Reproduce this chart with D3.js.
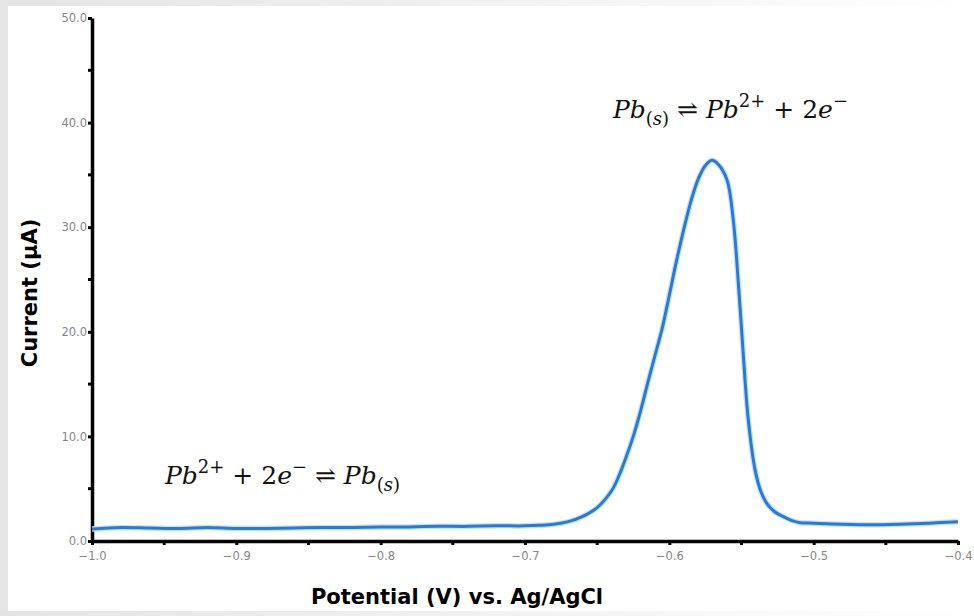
<!DOCTYPE html>
<meta charset="utf-8">
<script src="https://d3js.org/d3.v7.min.js"></script>
<style>
  body { margin: 0; background: #fff; }
</style>
<svg width="974" height="616"></svg>
<script>

// potential (V vs Ag/AgCl) and current (uA)
const potential = [-1.0, -0.98, -0.96, -0.94, -0.92, -0.9, -0.88, -0.86, -0.84, -0.82, -0.8,
  -0.78, -0.76, -0.74, -0.72, -0.70, -0.69, -0.68, -0.67, -0.66, -0.65, -0.64, -0.635, -0.63,
  -0.625, -0.62, -0.615, -0.61, -0.605, -0.60, -0.595, -0.59, -0.585, -0.58, -0.575, -0.5705,
  -0.566, -0.56, -0.5557, -0.552, -0.5488, -0.5453, -0.5406, -0.5365, -0.5325, -0.527, -0.521,
  -0.515, -0.5094, -0.50, -0.48, -0.46, -0.44, -0.42, -0.40];
const current = [1.15, 1.3, 1.25, 1.2, 1.3, 1.2, 1.2, 1.25, 1.3, 1.3, 1.35,
  1.35, 1.4, 1.4, 1.45, 1.45, 1.5, 1.6, 1.85, 2.35, 3.2, 4.8, 6.2, 8.0,
  10.0, 12.4, 15.1, 17.7, 20.3, 23.5, 26.8, 29.8, 32.5, 34.6, 35.9, 36.4,
  36.0, 34.5, 30.7, 24.3, 17.9, 11.6, 6.8, 4.7, 3.6, 2.8, 2.33,
  1.95, 1.75, 1.7, 1.6, 1.55, 1.6, 1.7, 1.85];

const xTicks = [-1.0, -0.9, -0.8, -0.7, -0.6, -0.5, -0.4];
const yTicks = [0, 10, 20, 30, 40, 50];

const xLabel = 'Potential (V) vs. Ag/AgCl';
const yLabel = 'Current (\u00b5A)';

var margin = {top: 18, right: 16, bottom: 75, left: 92},
    width = 974 - margin.left - margin.right,
    height = 616 - margin.top - margin.bottom;

var root = d3.select('svg');

// grey frame like the screenshot edges
var defs = root.append('defs');
var grad = defs.append('linearGradient').attr('id', 'topfade');
grad.append('stop').attr('offset', '0%').attr('stop-color', '#e4e4e4');
grad.append('stop').attr('offset', '100%').attr('stop-color', '#ffffff');
root.append('rect').attr('x', 0).attr('y', 0).attr('width', 974).attr('height', 6).attr('fill', 'url(#topfade)');
root.append('rect').attr('x', 0).attr('y', 0).attr('width', 8).attr('height', 616).attr('fill', '#e6e6e6');
root.append('rect').attr('x', 0).attr('y', 611).attr('width', 974).attr('height', 5).attr('fill', 'url(#topfade)');

var svg = root.append('g')
    .attr('transform', 'translate(' + margin.left + ',' + margin.top + ')');

var x = d3.scaleLinear().domain([-1.0, -0.4]).range([0, width]);
var y = d3.scaleLinear().domain([0, 50]).range([height, 0]);

// minor ticks (unlabelled)
var xMinor = d3.range(-0.95, -0.4, 0.1);
var yMinor = d3.range(5, 50, 10);

svg.append('g').selectAll('line')
  .data(xMinor).enter().append('line')
    .attr('x1', d => x(d)).attr('x2', d => x(d))
    .attr('y1', height).attr('y2', height + 4)
    .attr('stroke', '#000').attr('stroke-width', 3);
svg.append('g').selectAll('line')
  .data(yMinor).enter().append('line')
    .attr('x1', -4).attr('x2', 0)
    .attr('y1', d => y(d)).attr('y2', d => y(d))
    .attr('stroke', '#000').attr('stroke-width', 3);

// x axis
var xAxis = svg.append('g')
    .attr('transform', 'translate(0,' + height + ')')
    .call(d3.axisBottom(x).tickValues(xTicks).tickFormat(d3.format('.1f')).tickSize(4).tickSizeOuter(0));
// y axis
var yAxis = svg.append('g')
    .call(d3.axisLeft(y).tickValues(yTicks).tickFormat(d3.format('.1f')).tickSize(4).tickSizeOuter(0));

[xAxis, yAxis].forEach(function (a) {
  a.select('.domain').attr('stroke', '#000').attr('stroke-width', 3.5);
  a.selectAll('.tick line').attr('stroke', '#000').attr('stroke-width', 3);
  a.selectAll('.tick text')
    .attr('fill', '#858585')
    .style('font-family', '"DejaVu Sans", sans-serif')
    .style('font-size', '11.5px');
});
xAxis.selectAll('.tick text').attr('dy', '1.0em').text(d => d3.format('.1f')(d).replace('-', '\u2212'));
yAxis.selectAll('.tick text').attr('x', -5);

// the trace
var pts = potential.map((p, i) => [p, current[i]]);
var line = d3.line()
    .x(d => x(d[0]))
    .y(d => y(d[1]))
    .curve(d3.curveCatmullRom.alpha(0.5));

svg.append('path').datum(pts)
    .attr('fill', 'none').attr('stroke', '#c4e2fa').attr('stroke-width', 5.5)
    .attr('d', line);
svg.append('path').datum(pts)
    .attr('fill', 'none').attr('stroke', '#2a7ad2').attr('stroke-width', 3)
    .attr('stroke-linejoin', 'round')
    .attr('d', line);

// axis titles
root.append('text')
    .attr('x', 457).attr('y', 604)
    .attr('text-anchor', 'middle')
    .style('font-family', '"DejaVu Sans", sans-serif').style('font-weight', 700).style('font-size', '21px')
    .text(xLabel);
root.append('text')
    .attr('transform', 'translate(37,293) rotate(-90)')
    .attr('text-anchor', 'middle')
    .style('font-family', '"DejaVu Sans", sans-serif').style('font-weight', 700).style('font-size', '21px')
    .text(yLabel);

// reaction annotations, built from pieces: [text, italic, shift]
const oxidation = [['Pb', 1, 0], ['(', 0, 1], ['s', 1, 1], [')', 0, 1], [' \u21cc ', 0, 0], ['Pb', 1, 0], ['2+', 0, -1], [' + 2', 0, 0], ['e', 1, 0], ['\u2212', 0, -1]];
const reduction = [['Pb', 1, 0], ['2+', 0, -1], [' + 2', 0, 0], ['e', 1, 0], ['\u2212', 0, -1], [' \u21cc ', 0, 0], ['Pb', 1, 0], ['(', 0, 1], ['s', 1, 1], [')', 0, 1]];

function equation(parts, px, py) {
  var t = root.append('text')
      .attr('x', px).attr('y', py)
      .style('font-family', '"DejaVu Serif", serif')
      .style('font-size', '25px')
      .attr('fill', '#111')
      .attr('xml:space', 'preserve');
  var prev = 0;
  parts.forEach(function (p) {
    var shift = p[2] === 1 ? 7 : (p[2] === -1 ? -11 : 0);
    t.append('tspan')
      .attr('dy', shift - prev)
      .style('font-style', p[1] ? 'italic' : 'normal')
      .style('font-size', p[2] !== 0 ? '18px' : '25px')
      .text(p[0]);
    prev = shift;
  });
}
equation(oxidation, 613, 118);
equation(reduction, 165, 484);

</script>
